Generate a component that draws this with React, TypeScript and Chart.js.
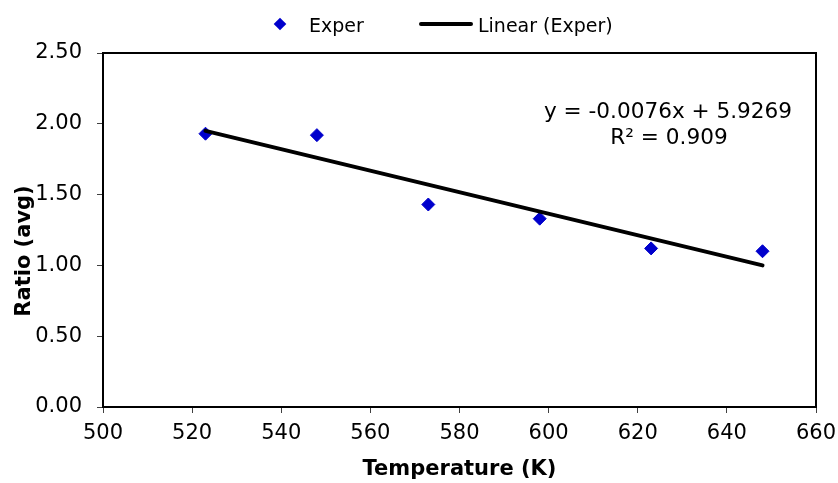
import React, { useEffect, useRef } from "react";
import { Chart, registerables } from "chart.js";

Chart.register(...registerables);

// Data
const temperatureK = [523, 548, 573, 598, 623, 648];
const ratioAvg = [1.93, 1.92, 1.43, 1.33, 1.12, 1.1];
const trendX = [523, 648];
const trendY = [1.95, 1.0];
const xTicks = [500, 520, 540, 560, 580, 600, 620, 640, 660];
const yTicks = [0, 0.5, 1.0, 1.5, 2.0, 2.5];
const seriesName = "Exper";
const trendName = "Linear (Exper)";
const equationText = "y = -0.0076x + 5.9269";
const r2Text = "R² = 0.909";
const xTitle = "Temperature (K)";
const yTitle = "Ratio (avg)";

const FONT = "'DejaVu Sans', Verdana, sans-serif";
const BLUE = "#0000CC";

const overlayPlugin = {
  id: "overlay",
  afterDraw(chart: any) {
    const ctx = chart.ctx;
    const ca = chart.chartArea;
    ctx.save();
    // plot-area frame
    ctx.strokeStyle = "#000";
    ctx.lineWidth = 2;
    ctx.strokeRect(ca.left, ca.top, ca.right - ca.left, ca.bottom - ca.top);

    // legend
    ctx.fillStyle = BLUE;
    ctx.beginPath();
    const lx = 280, ly = 24, r = 6.3;
    ctx.moveTo(lx - r, ly);
    ctx.lineTo(lx, ly - r);
    ctx.lineTo(lx + r, ly);
    ctx.lineTo(lx, ly + r);
    ctx.closePath();
    ctx.fill();
    ctx.fillStyle = "#000";
    ctx.font = `19px ${FONT}`;
    ctx.textAlign = "left";
    ctx.textBaseline = "alphabetic";
    ctx.fillText(seriesName, 309, 31.5);
    ctx.strokeStyle = "#000";
    ctx.lineWidth = 4;
    ctx.lineCap = "round";
    ctx.beginPath();
    ctx.moveTo(421, 24);
    ctx.lineTo(471, 24);
    ctx.stroke();
    ctx.fillText(trendName, 478, 31.5);

    // trendline equation
    ctx.font = `21.6px ${FONT}`;
    ctx.textAlign = "center";
    ctx.fillText(equationText, 668, 118);
    ctx.fillText(r2Text, 669, 144);

    // y-axis title
    ctx.font = `bold 21px ${FONT}`;
    ctx.translate(25, 251);
    ctx.rotate(-Math.PI / 2);
    ctx.textAlign = "center";
    ctx.textBaseline = "middle";
    ctx.fillText(yTitle, 0, 0);
    ctx.restore();
  },
};

export default function App() {
  const canvasRef = useRef<HTMLCanvasElement | null>(null);

  useEffect(() => {
    if (!canvasRef.current) return;
    const chart = new Chart(canvasRef.current, {
      type: "scatter",
      data: {
        datasets: [
          {
            label: trendName,
            data: trendX.map((x, i) => ({ x, y: trendY[i] })),
            showLine: true,
            borderColor: "#000",
            borderWidth: 4,
            borderCapStyle: "round",
            pointRadius: 0,
            order: 0,
          } as any,
          {
            label: seriesName,
            data: temperatureK.map((x, i) => ({ x, y: ratioAvg[i] })),
            pointStyle: "rectRot",
            pointRadius: 6.5,
            pointBackgroundColor: BLUE,
            pointBorderColor: BLUE,
            pointBorderWidth: 1,
            showLine: false,
            order: 1,
          } as any,
        ],
      },
      options: {
        responsive: false,
        animation: false,
        layout: { padding: { left: 0, right: 22, top: 53, bottom: 0 } },
        plugins: {
          legend: { display: false },
          tooltip: { enabled: false },
        },
        scales: {
          x: {
            type: "linear",
            min: xTicks[0],
            max: xTicks[xTicks.length - 1],
            afterBuildTicks: (s: any) => {
              s.ticks = xTicks.map((v) => ({ value: v }));
            },
            afterFit: (s: any) => {
              s.height = 76;
              s.paddingRight = 0;
              s.paddingLeft = 0;
            },
            ticks: {
              color: "#000",
              font: { family: FONT, size: 21 },
              padding: 8,
              maxRotation: 0,
              autoSkip: false,
            },
            grid: {
              drawOnChartArea: false,
              drawTicks: true,
              tickLength: 6,
              color: "#404040",
              lineWidth: 1,
            },
            border: { display: true, color: "#000", width: 2 },
            title: {
              display: true,
              text: xTitle,
              color: "#000",
              font: { family: FONT, size: 21, weight: "bold" },
              padding: { top: 0, bottom: 1 },
            },
          },
          y: {
            type: "linear",
            min: yTicks[0],
            max: yTicks[yTicks.length - 1],
            afterBuildTicks: (s: any) => {
              s.ticks = yTicks.map((v) => ({ value: v }));
            },
            afterFit: (s: any) => {
              s.width = 103;
              s.paddingTop = 0;
              s.paddingBottom = 0;
            },
            ticks: {
              color: "#000",
              font: { family: FONT, size: 21 },
              padding: 15,
              callback: (v: any) => Number(v).toFixed(2),
            },
            grid: {
              drawOnChartArea: false,
              drawTicks: true,
              tickLength: 6,
              color: "#404040",
              lineWidth: 1,
            },
            border: { display: true, color: "#000", width: 2 },
          },
        },
      },
      plugins: [overlayPlugin],
    });
    return () => chart.destroy();
  }, []);

  return (
    <div style={{ position: "absolute", left: 0, top: 0, width: 838, height: 483, background: "#fff" }}>
      <canvas ref={canvasRef} width={838} height={483} style={{ display: "block" }} />
    </div>
  );
}
